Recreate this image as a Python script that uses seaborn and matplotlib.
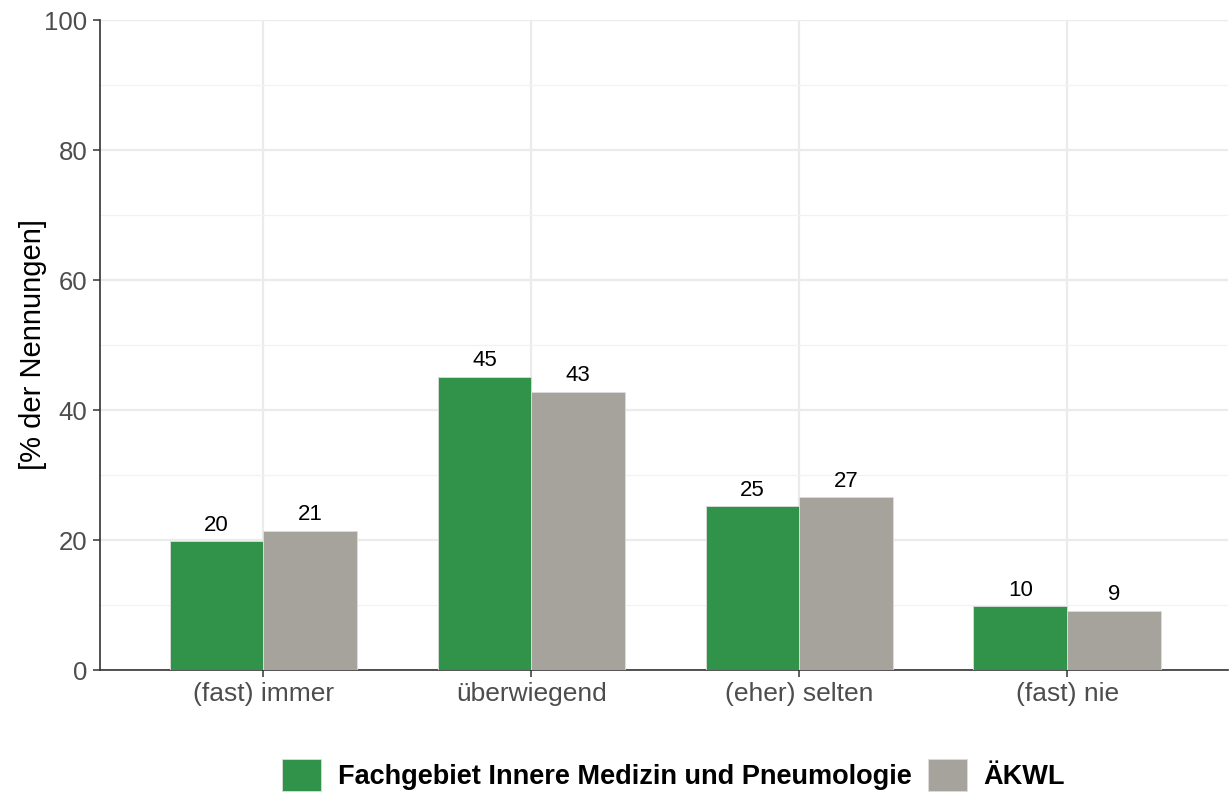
import pandas as pd
import matplotlib
matplotlib.use('Agg')
import matplotlib.pyplot as plt
import seaborn as sns
from matplotlib.ticker import MultipleLocator

categories = ['(fast) immer', 'überwiegend', '(eher) selten', '(fast) nie']
groups = ['Fachgebiet Innere Medizin und Pneumologie', 'ÄKWL']
values_fach = [19.8, 45.1, 25.2, 9.8]
values_aekwl = [21.4, 42.8, 26.6, 9.1]
labels_fach = ['20', '45', '25', '10']
labels_aekwl = ['21', '43', '27', '9']
colors = ['#31934A', '#A5A39C']

df = pd.DataFrame({
    'kategorie': categories * 2,
    'gruppe': [groups[0]] * 4 + [groups[1]] * 4,
    'wert': values_fach + values_aekwl,
})

sns.set_style('white')
plt.rcParams['font.family'] = ['Liberation Sans', 'DejaVu Sans']

fig = plt.figure(figsize=(12.29, 7.94), dpi=100)
ax = fig.add_axes([100 / 1229, 1 - 670 / 794, 1128 / 1229, 650 / 794])

sns.barplot(data=df, x='kategorie', y='wert', hue='gruppe', order=categories,
            hue_order=groups, palette=colors, width=0.7, saturation=1, ax=ax,
            edgecolor='#dddddd', linewidth=0.6, zorder=3)

# labels above bars
for container, labs in zip(ax.containers, [labels_fach, labels_aekwl]):
    ax.bar_label(container, labels=labs, padding=4, fontsize=16, color='black')

ax.set_ylim(0, 100)
ax.set_xlim(-0.61, 3.6)
ax.yaxis.set_major_locator(MultipleLocator(20))
ax.yaxis.set_minor_locator(MultipleLocator(10))
ax.grid(True, which='major', color='#ebebeb', linewidth=1.6, zorder=0)
ax.grid(True, which='minor', axis='y', color='#f2f2f2', linewidth=0.9, zorder=0)
ax.set_axisbelow(True)

for s in ['top', 'right']:
    ax.spines[s].set_visible(False)
for s in ['left', 'bottom']:
    ax.spines[s].set_color('#333333')
    ax.spines[s].set_linewidth(1.2)

ax.tick_params(axis='both', which='major', length=5, width=1.1, color='#333333',
               labelsize=18.5, labelcolor='#4d4d4d', pad=4, left=True, bottom=True)
ax.tick_params(axis='x', labelsize=19)
ax.tick_params(axis='y', which='minor', length=0)

ax.set_xlabel('')
ax.set_ylabel('[% der Nennungen]', fontsize=21, color='black')
ax.yaxis.set_label_coords(-0.047, 0.5)

ax.get_legend().remove()
handles = [plt.Rectangle((0, 0), 1, 1, facecolor=c, edgecolor='#dddddd', linewidth=0.6) for c in colors]
fig.legend(handles, groups, loc='center', bbox_to_anchor=(0.548, 0.024), ncol=2,
           frameon=False, prop={'weight': 'bold', 'size': 19.5}, labelcolor='black',
           handlelength=1.45, handleheight=1.45, handletextpad=0.6, columnspacing=0.6)

fig.savefig('out.png', dpi=100)
